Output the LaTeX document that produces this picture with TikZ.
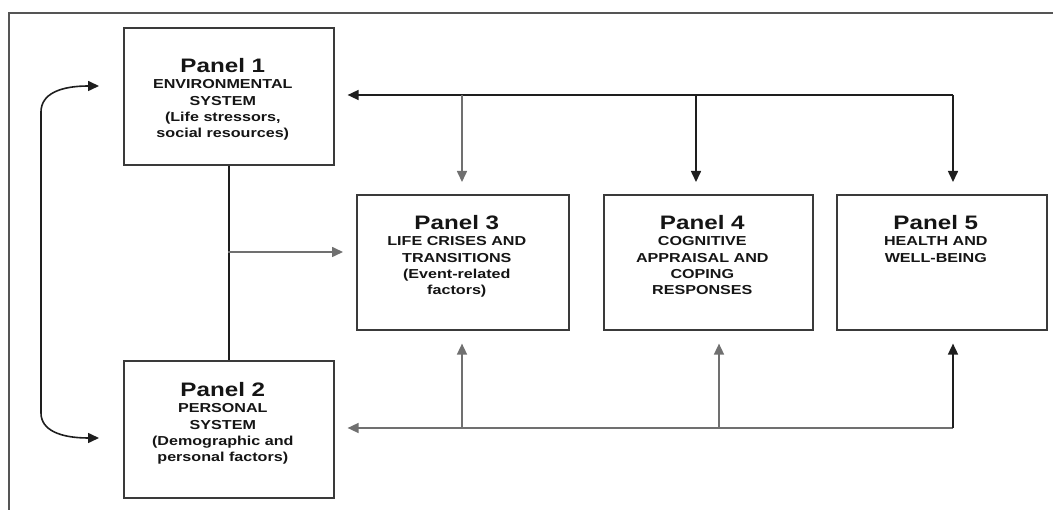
\documentclass[tikz,border=0pt]{standalone}
\usepackage{fontspec}
\setmainfont{Liberation Sans}[FakeStretch=1.24]
\usetikzlibrary{arrows.meta,calc}
\definecolor{boxc}{HTML}{3A3A3A}
\definecolor{txt}{HTML}{151515}
\definecolor{lnd}{HTML}{1E1E1E}
\definecolor{lng}{HTML}{707070}
\definecolor{frm}{HTML}{555555}
\begin{document}
\begin{tikzpicture}[x=1pt,y=-1pt,
  panel/.style={draw=boxc, line width=1.6pt, inner sep=0pt, anchor=north west},
  ptext/.style={align=center, text=txt, inner sep=0pt, anchor=north,
    font=\bfseries\fontsize{13}{16.4}\selectfont},
  arr/.style={-{Triangle[length=11pt,width=10pt]}, line width=1.6pt},
  dk/.style={draw=lnd},
  gy/.style={draw=lng},
  frame/.style={draw=frm, line width=1.6pt}]
\useasboundingbox (0,0) rectangle (1053,510);
\newcommand{\ptitle}[1]{{\fontsize{19.5}{16.4}\selectfont #1}}
% frame
\draw[frame] (9,510) -- (9,13) -- (1053,13);
% boxes
\node[panel, minimum width=210pt, minimum height=137pt] (p1) at (123,27) {};
\node[panel, minimum width=210pt, minimum height=137pt] (p2) at (123,360) {};
\node[panel, minimum width=212pt, minimum height=135pt] (p3) at (356,194) {};
\node[panel, minimum width=209pt, minimum height=135pt] (p4) at (603,194) {};
\node[panel, minimum width=210pt, minimum height=135pt] (p5) at (836,194) {};
% texts
\node[ptext] (t1) at ([xshift=-6pt,yshift=-31pt]p1.north) {\ptitle{Panel 1}\\ENVIRONMENTAL\\SYSTEM\\(Life stressors,\\social resources)};
\node[ptext] (t2) at ([xshift=-6pt,yshift=-22pt]p2.north) {\ptitle{Panel 2}\\PERSONAL\\SYSTEM\\(Demographic and\\personal factors)};
\node[ptext] (t3) at ([xshift=-6pt,yshift=-21pt]p3.north) {\ptitle{Panel 3}\\LIFE CRISES AND\\TRANSITIONS\\(Event-related\\factors)};
\node[ptext] (t4) at ([xshift=-6pt,yshift=-21pt]p4.north) {\ptitle{Panel 4}\\COGNITIVE\\APPRAISAL AND\\COPING\\RESPONSES};
\node[ptext] (t5) at ([xshift=-6pt,yshift=-21pt]p5.north) {\ptitle{Panel 5}\\HEALTH AND\\WELL-BEING};
% junction coordinates
\coordinate (top3) at (462,95);
\coordinate (top4) at (696,95);
\coordinate (top5) at (953,95);
\coordinate (bot3) at (462,428);
\coordinate (bot4) at (719,428);
\coordinate (bot5) at (953,428);
\coordinate (mid) at (228,252);
\coordinate (a1) at (99,86);
\coordinate (a2) at (99,438);
% top feedback line
\draw[arr, dk, shorten >=13pt] (top5) -- (top5 -| p1.east);
\draw[arr, gy, shorten >=12pt] (top3) -- (top3 |- p3.north);
\draw[arr, dk, shorten >=12pt] (top4) -- (top4 |- p4.north);
\draw[arr, dk, shorten >=12pt] (top5) -- (top5 |- p5.north);
% bottom line
\draw[arr, gy, shorten >=13pt] (bot5) -- (bot5 -| p2.east);
\draw[arr, gy, shorten >=13pt] (bot3) -- (bot3 |- p3.south);
\draw[arr, gy, shorten >=13pt] (bot4) -- (bot4 |- p4.south);
\draw[arr, dk, shorten >=13pt] (bot5) -- (bot5 |- p5.south);
% panel 1 - panel 2 link and arrow to panel 3
\draw[dk, line width=1.4pt] (p1.south) -- (p2.north);
\draw[arr, gy, shorten >=13pt] (mid) -- (mid -| p3.west);
% curved double arrow
\draw[dk, line width=1.6pt, {Triangle[length=11pt,width=10pt]}-{Triangle[length=11pt,width=10pt]}]
  (a1) .. controls (60,86) and (41,94) .. (41,112) -- (41,413)
  .. controls (41,430) and (60,438) .. (a2);
\end{tikzpicture}
\end{document}
